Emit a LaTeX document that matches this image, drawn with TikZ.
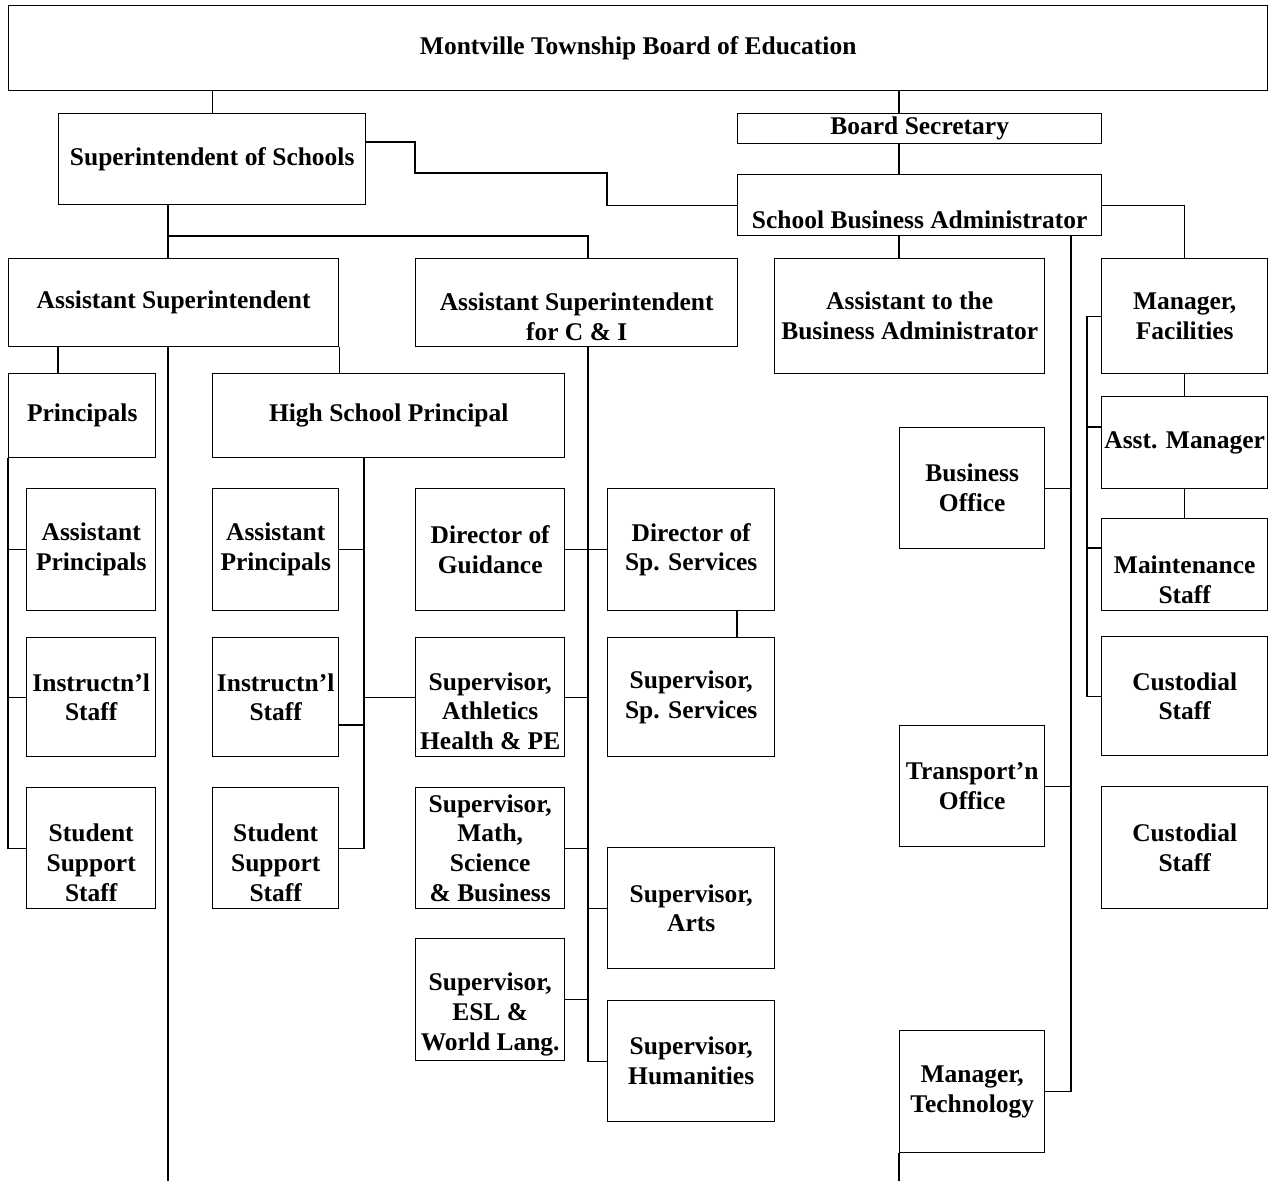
\documentclass[tikz,border=0pt]{standalone}
\usepackage{fontspec}
\setmainfont{Liberation Serif}

\begin{document}
\begin{tikzpicture}[x=0.02cm,y=-0.02cm,line width=0.8pt,
 box/.style={draw,inner sep=0pt,align=center,anchor=north west,
  font=\fontsize{14.5}{17}\selectfont\bfseries},
 sz/.style 2 args={minimum width=#1*0.02cm,minimum height=#2*0.02cm}]
  \useasboundingbox (0,0) rectangle (1271,1181);

  \node[box,sz={1259}{85}] (board) at (8,5) {Montville Township Board of Education};
  \node[box,sz={307}{91}] (sup) at (58,113) {Superintendent of Schools};
  \node[box,sz={364}{30}] (bsec) at (737,113) {Board Secretary};
  \node[box,sz={364}{61}] (sba) at (737,174) {\rule{0pt}{27pt}School Business Administrator};
  \node[box,sz={330}{88}] (asup) at (8,258) {Assistant Superintendent};
  \node[box,sz={322}{88}] (asci) at (415,258) {\rule{0pt}{26pt}Assistant Superintendent\\for C \& I};
  \node[box,sz={270}{115}] (asstba) at (774,258) {Assistant to the\\Business Administrator};
  \node[box,sz={166}{115}] (mfac) at (1101,258) {Manager,\\Facilities};
  \node[box,sz={147}{84}] (prin) at (8,373) {Principals};
  \node[box,sz={352}{84}] (hsp) at (212,373) {High School Principal};
  \node[box,sz={166}{92}] (amgr) at (1101,396) {Asst. Manager};
  \node[box,sz={145}{121}] (boff) at (899,427) {Business\\Office};
  \node[box,sz={129}{122}] (ap1) at (26,488) {Assistant\\Principals};
  \node[box,sz={126}{122}] (ap2) at (212,488) {Assistant\\Principals};
  \node[box,sz={149}{122}] (dgui) at (415,488) {Director of\\Guidance};
  \node[box,sz={167}{122}] (dsp) at (607,488) {Director of\\Sp. Services};
  \node[box,sz={166}{92}] (maint) at (1101,518) {\rule{0pt}{27pt}Maintenance\\Staff};
  \node[box,sz={129}{119}] (is1) at (26,637) {Instructn'l\\Staff};
  \node[box,sz={126}{119}] (is2) at (212,637) {Instructn'l\\Staff};
  \node[box,sz={149}{119}] (sath) at (415,637) {\rule{0pt}{26pt}Supervisor,\\Athletics\\Health \& PE};
  \node[box,sz={167}{119}] (ssp) at (607,637) {Supervisor,\\Sp. Services};
  \node[box,sz={166}{119}] (cust1) at (1101,636) {Custodial\\Staff};
  \node[box,sz={145}{121}] (trans) at (899,725) {Transport'n\\Office};
  \node[box,sz={129}{121}] (ss1) at (26,787) {\rule{0pt}{27pt}Student\\Support\\Staff};
  \node[box,sz={126}{121}] (ss2) at (212,787) {\rule{0pt}{27pt}Student\\Support\\Staff};
  \node[box,sz={149}{121}] (smath) at (415,787) {Supervisor,\\Math,\\Science\\\& Business};
  \node[box,sz={166}{122}] (cust2) at (1101,786) {Custodial\\Staff};
  \node[box,sz={167}{121}] (sarts) at (607,847) {Supervisor,\\Arts};
  \node[box,sz={149}{122}] (sesl) at (415,938) {\rule{0pt}{27pt}Supervisor,\\ESL \&\\World Lang.};
  \node[box,sz={167}{121}] (shum) at (607,1000) {Supervisor,\\Humanities};
  \node[box,sz={145}{122}] (mtech) at (899,1030) {Manager,\\Technology};

  \draw (sup.north) -- (sup.north |- board.south);
  \draw (board.south -| 899,0) -- (bsec.north -| 899,0);
  \draw (bsec.south -| 899,0) -- (sba.north -| 899,0);
  \draw (sup.east |- 0,142) -| (415,173) -| (sba.west -| 607,0) -- (sba.west);
  \draw (sba.south -| 899,0) -- (asstba.north -| 899,0);
  \draw (sba.east) -| (mfac.north);
  \draw (sba.south -| 1071,0) |- (mtech.east);
  \foreach \t in {boff,trans}
    \draw (\t.east) -- (\t.east -| 1071,0);
  \draw (mtech.south west) -- (mtech.south west |- 0,1181);
  \draw (mfac.west) -- (mfac.west -| 1087,0) |- (cust1.west);
  \foreach \t/\y in {amgr/427,maint/548}
    \draw (\t.west |- 0,\y) -- (1087,\y);
  \draw (mfac.south) -- (amgr.north);
  \draw (amgr.south) -- (maint.north);

  \draw (sup.south -| 168,0) -- (asup.north -| 168,0);
  \draw (168,236) -| (asci.north -| 588,0);
  \draw (asup.south -| 168,0) -- (168,1181);
  \draw (asup.south -| 58,0) -- (prin.north -| 58,0);
  \draw (asup.south east) -- (asup.south east |- hsp.north);
  \draw (prin.south west) |- (ss1.west);
  \foreach \t in {ap1,is1}
    \draw (\t.west) -- (\t.west -| prin.west);
  \draw (hsp.south -| 364,0) |- (ss2.east);
  \draw (ap2.east) -- (ap2.east -| 364,0);
  \draw (is2.east |- 0,725) -- (364,725);
  \draw (sath.west -| 364,0) -- (sath.west);
  \draw (asci.south -| 588,0) |- (shum.west);
  \foreach \t in {dgui,sath,smath,sesl}
    \draw (\t.east) -- (\t.east -| 588,0);
  \foreach \t in {dsp,sarts}
    \draw (\t.west) -- (\t.west -| 588,0);
  \draw (dsp.south -| 737,0) -- (ssp.north -| 737,0);
\end{tikzpicture}
\end{document}
